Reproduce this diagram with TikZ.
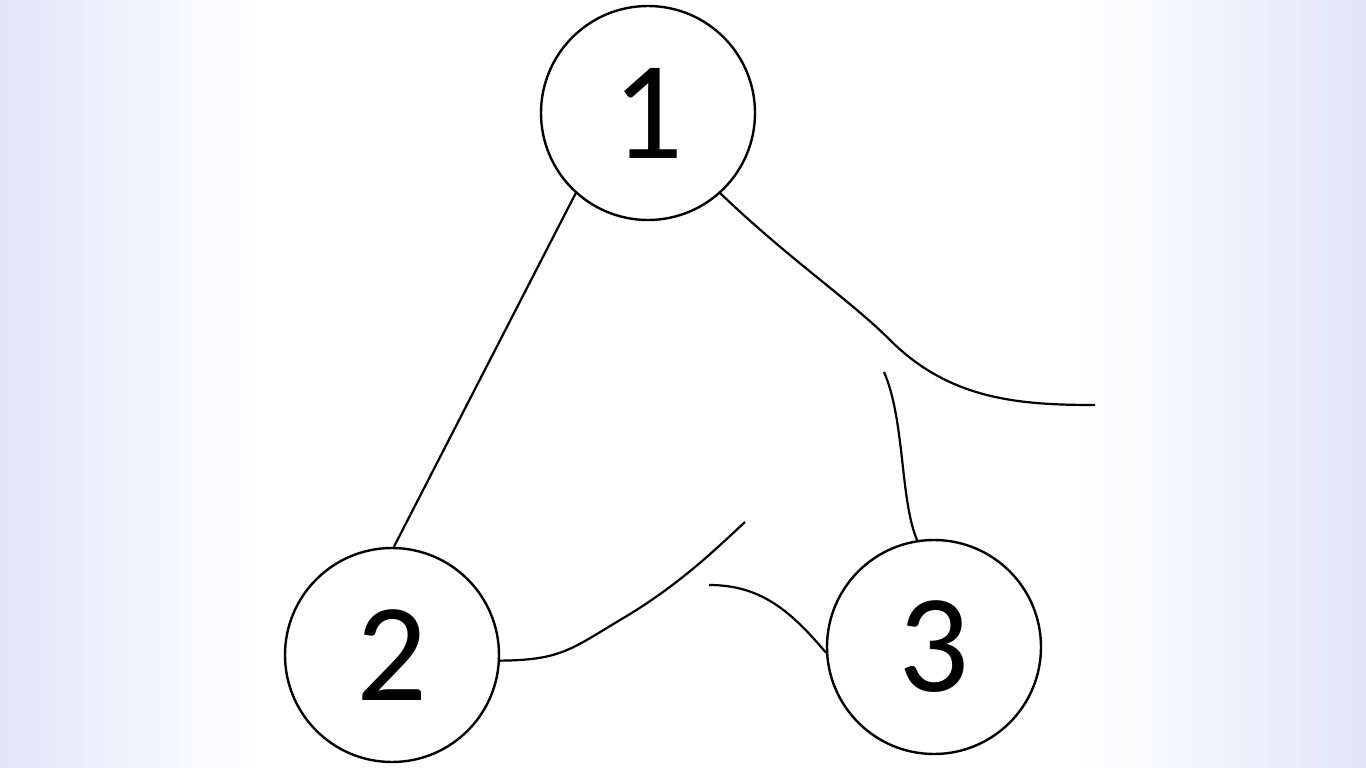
\documentclass[tikz,border=0pt]{standalone}
\usepackage{fontspec}
\setmainfont{Carlito}
\definecolor{lav}{RGB}{228,228,250}
\begin{document}
\begin{tikzpicture}[x=1pt,y=-1pt,
  nd/.style={circle,draw,line width=2.4pt,minimum size=214pt,inner sep=0pt,font=\fontsize{140}{140}\selectfont},
  ln/.style={line width=2.2pt}]
\useasboundingbox (0,0) rectangle (1366,768);
\shade[left color=lav,right color=white] (0,0) rectangle (260,768);
\fill[white] (260,0) rectangle (1080,768);
\shade[left color=white,right color=lav] (1080,0) rectangle (1366,768);
\node[nd] (n1) at (648,113) {1};
\node[nd] (n2) at (392,655) {2};
\node[nd] (n3) at (934,647) {3};
\coordinate (e1) at (1095,405);
\coordinate (e2) at (884,372);
\coordinate (e3) at (745,522);
\coordinate (e4) at (709,585);
\draw[ln] (n1.228) -- (n2.89);
\draw[ln] (n1.-48) .. controls (790,260) and (850,300) .. (890,340) .. controls (950,400) and (1020,405) .. (e1);
\draw[ln] (e2) .. controls (905,420) and (900,500) .. (n3.99);
\draw[ln] (n2.-3) .. controls (560,660) and (570,650) .. (620,620) .. controls (680,585) and (720,545) .. (e3);
\draw[ln] (e4) .. controls (760,585) and (790,610) .. (n3.183);
\end{tikzpicture}
\end{document}
